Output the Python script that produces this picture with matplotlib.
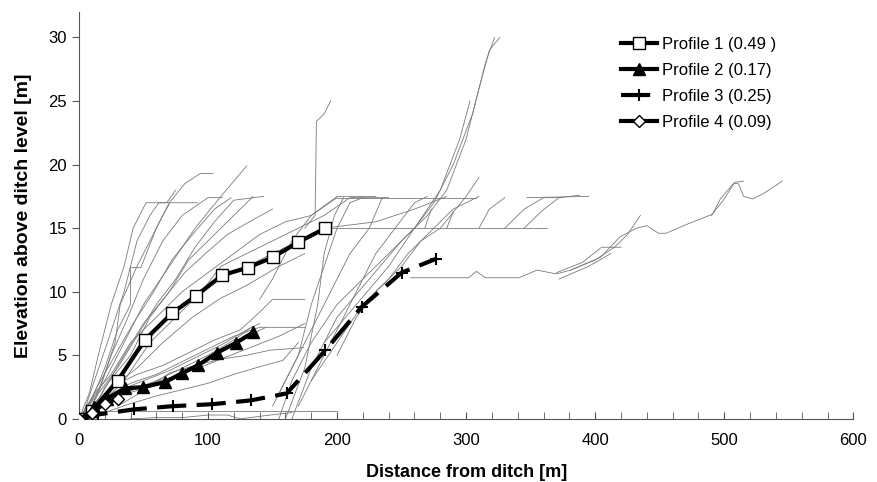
import numpy as np
import matplotlib.pyplot as plt
from matplotlib.ticker import MultipleLocator

plt.rcParams['font.family'] = ['Liberation Sans', 'DejaVu Sans']

# main profiles (distance m, elevation m)
p1_x = [0, 10, 30, 51, 72, 91, 111, 131, 150, 170, 191]
p1_y = [0, 0.6, 3.0, 6.2, 8.3, 9.7, 11.3, 11.9, 12.7, 13.9, 15.0]
p2_x = [4, 12, 22, 36, 50, 67, 80, 92, 107, 122, 135]
p2_y = [0, 0.9, 1.6, 2.4, 2.5, 2.9, 3.6, 4.2, 5.2, 6.0, 6.8]
p3_x = [0, 15, 43, 73, 103, 133, 161, 191, 219, 250, 277]
p3_y = [0, 0.35, 0.75, 1.0, 1.15, 1.45, 2.0, 5.4, 8.8, 11.5, 12.6]
p4_x = [0, 10, 20, 30]
p4_y = [0, 0.5, 1.2, 1.6]
labels = ['Profile 1 (0.49 )', 'Profile 2 (0.17)', 'Profile 3 (0.25)', 'Profile 4 (0.09)']

# individual measured profiles (thin grey lines)
grey = [
    [(0, 0), (8, 2), (15, 5), (25, 9), (35, 12), (42, 15), (52, 17), (68, 17), (75, 18)],
    [(2, 0), (12, 3), (22, 6), (35, 10), (45, 14), (55, 16), (62, 17), (92, 17)],
    [(0, 0), (10, 1.5), (20, 4), (30, 7), (40, 9), (40, 11.9), (48, 11.9), (60, 15), (70, 17), (82, 18.5), (94, 19.3), (104, 19.3)],
    [(5, 0), (15, 2), (25, 5), (38, 8), (50, 11), (65, 14), (80, 16), (100, 17.4), (111, 17.4)],
    [(0, 0), (20, 3), (35, 6), (50, 9), (70, 12), (90, 15), (110, 17.5), (130, 19.9)],
    [(3, 0), (10, 1), (18, 3), (28, 6), (32, 9), (45, 12), (55, 14), (65, 16), (70, 16.9)],
    [(0, 0), (15, 2), (30, 4), (45, 6.5), (60, 9), (75, 11), (90, 13.5), (105, 15.5), (120, 17.2), (143, 17.5)],
    [(8, 0), (20, 2.5), (40, 5), (55, 8), (70, 10), (85, 12.5), (100, 14), (120, 16), (135, 17.5)],
    [(0, 0), (12, 2), (25, 3.5), (40, 6), (60, 8), (80, 10), (100, 11.5), (120, 13), (140, 14.5), (160, 15.5), (180, 16), (200, 17.4)],
    [(5, 0), (20, 1.5), (35, 3), (55, 6), (75, 8), (95, 10), (110, 12), (130, 13), (150, 14), (170, 15), (190, 16), (210, 17.4), (240, 17.4)],
    [(0, 0), (20, 2), (40, 4.5), (60, 7), (80, 9), (100, 10.5), (130, 12), (160, 13.5), (190, 15), (230, 15.5), (260, 16.5), (285, 17.5)],
    [(2, 0), (14, 2.5), (28, 5), (42, 7.5), (58, 10), (72, 12.5), (88, 14.5), (105, 16.5), (118, 17.4)],
    [(4, 0), (18, 2), (32, 4.5), (50, 7.5), (66, 9.5), (82, 11.5), (98, 13), (115, 14.5), (132, 15.5), (150, 16.5)],
    [(0, 0), (22, 2.2), (45, 4), (65, 6), (88, 8), (110, 9.5), (130, 10.5), (155, 12), (175, 13)],
    [(0, 0), (10, 1), (25, 2), (40, 2.8), (60, 3.5), (80, 4.5), (100, 5.5), (120, 6.5), (140, 7.2), (175, 7.2)],
    [(0, 0), (15, 1.5), (30, 2.2), (50, 3), (70, 3.8), (90, 4.8), (110, 5.8), (130, 7), (140, 7.5)],
    [(0, 0), (20, 1.2), (40, 2.2), (60, 3), (80, 4), (100, 5), (120, 6.2), (135, 7.3)],
    [(0, 0), (10, 0.8), (30, 1.8), (55, 2.5), (75, 3.3), (95, 4.5), (115, 5.5), (130, 6.5), (145, 7.2)],
    [(0, 0), (25, 2.5), (45, 3.5), (65, 4.2), (85, 5.2), (105, 6.2), (125, 7.0), (138, 8.2), (150, 9.4), (175, 9.4)],
    [(0, 0), (15, 1), (35, 2), (55, 2.8), (80, 3.5), (100, 4.3), (130, 5.5), (155, 6.5), (175, 7.5)],
    [(20, 0.5), (40, 1.2), (60, 1.8), (80, 2.3), (100, 2.8), (120, 3.5), (140, 4.1), (158, 4.6), (170, 6)],
    [(30, 1), (50, 2.2), (70, 3.6), (90, 4.2), (110, 4.7), (130, 5.0), (148, 5.4), (174, 5.6)],
    [(12, 0.6), (200, 0.6)],
    [(40, 0), (60, 0.1), (80, 0.1), (100, 0.3), (115, 0.3), (125, 0.0), (140, 0.2), (165, 0.5)],
    [(155, 0), (165, 3), (180, 6), (200, 9), (220, 11), (240, 13), (260, 15), (275, 17), (290, 20), (305, 24), (315, 28), (322, 30)],
    [(165, 0), (180, 4), (200, 8), (225, 11), (250, 14), (270, 16), (285, 18), (300, 22), (310, 26), (318, 29), (326, 30)],
    [(190, 6), (215, 9), (240, 12), (260, 15), (280, 18), (295, 22), (303, 25)],
    [(150, 1), (165, 4), (180, 7), (195, 10), (210, 13), (225, 15), (235, 17.4)],
    [(155, 2), (170, 5), (180, 9), (190, 12), (200, 15), (210, 17), (220, 17.4)],
    [(160, 0), (175, 4), (185, 9), (190, 13), (198, 16), (205, 17.4)],
    [(170, 1), (185, 4), (200, 7), (215, 10), (230, 13), (245, 15), (260, 17), (270, 17.5)],
    [(175, 15), (183, 16), (184, 23.4), (190, 24), (195, 25)],
    [(180, 3), (200, 6), (220, 9), (240, 11), (255, 13), (270, 14.5), (290, 16.5), (310, 17.5)],
    [(200, 5), (215, 8), (230, 10), (250, 12), (265, 14), (280, 15), (300, 17.5), (310, 19)],
    [(140, 9.4), (150, 11), (165, 14), (180, 16), (200, 17.5), (230, 17.5)],
    [(200, 17.4), (308, 17.4)],
    [(347, 17.4), (395, 17.5)],
    [(190, 15), (363, 15)],
    [(268, 15), (273, 16.5)],
    [(285, 15), (290, 16.3)],
    [(310, 15), (318, 16.5), (330, 17.4)],
    [(330, 15), (345, 16.5), (360, 17.4), (375, 17.4)],
    [(345, 15), (358, 16.3), (372, 17.4), (388, 17.6)],
    [(257, 11.1), (302, 11.1), (308, 11.6), (315, 11.1), (341, 11.1), (355, 11.7), (370, 11.4), (381, 11.7), (404, 12.7),
     (419, 14.3), (432, 15), (440, 15.2), (449, 14.6), (455, 14.6), (471, 15.3), (491, 16.1), (497, 17.3), (507, 18.5),
     (511, 18.5), (515, 17.5), (522, 17.3), (530, 17.7), (545, 18.7)],
    [(381, 11.7), (400, 12.5), (415, 13.5), (425, 14.5), (435, 16)],
    [(490, 16), (500, 17.3), (508, 18.6), (515, 18.7)],
    [(370, 11.5), (390, 12.3), (405, 13.5), (420, 13.5)],
    [(372, 11), (395, 12), (412, 13)],
]

fig = plt.figure(figsize=(8.77, 4.82), dpi=100)
ax = fig.add_axes([0.090, 0.131, 0.883, 0.844])

for g in grey:
    gx, gy = zip(*g)
    ax.plot(gx, gy, color='#7a7a7a', lw=0.6, zorder=1)

ax.plot(p1_x, p1_y, color='black', lw=3, marker='s', ms=8, mfc='white', mec='black', mew=1, label=labels[0], zorder=3)
ax.plot(p2_x, p2_y, color='black', lw=3, marker='^', ms=8, mfc='black', label=labels[1], zorder=3)
ax.plot(p3_x, p3_y, color='black', lw=3, ls=(0, (7, 2.5)), marker='+', ms=9, mew=1.5, label=labels[2], zorder=3)
ax.plot(p4_x, p4_y, color='black', lw=3, marker='D', ms=6, mfc='white', mec='black', mew=1, label=labels[3], zorder=3)

ax.set_xlim(0, 600)
ax.set_ylim(0, 32)
ax.xaxis.set_major_locator(MultipleLocator(100))
ax.xaxis.set_minor_locator(MultipleLocator(20))
ax.yaxis.set_major_locator(MultipleLocator(5))
ax.tick_params(axis='x', which='both', direction='in', length=5, color='#555555', labelsize=12, pad=10)
ax.tick_params(axis='y', direction='out', length=5, color='#555555', labelsize=12)
for s in ['top', 'right']:
    ax.spines[s].set_visible(False)
for s in ['left', 'bottom']:
    ax.spines[s].set_color('#555555')

ax.set_xlabel('Distance from ditch [m]', fontsize=13, fontweight='bold', labelpad=12)
ax.set_ylabel('Elevation above ditch level [m]', fontsize=14, fontweight='bold', labelpad=12)

ax.legend(loc='upper left', bbox_to_anchor=(0.68, 0.975), frameon=False, fontsize=12,
          handlelength=2.2, handletextpad=0.3, labelspacing=0.65)

fig.savefig('out.png', dpi=100)
